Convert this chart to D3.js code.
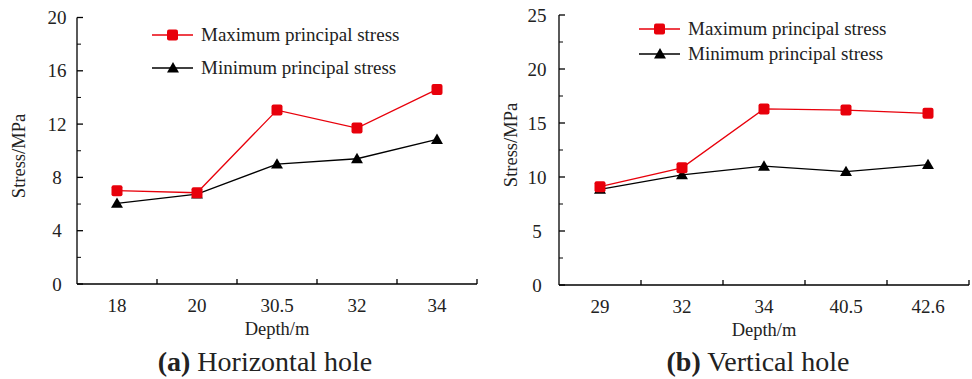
<!DOCTYPE html>
<html>
<head>
<meta charset="utf-8">
<script src="https://cdn.jsdelivr.net/npm/d3@7"></script>
<style>
  body { margin: 0; background: #fff; }
</style>
</head>
<body>
<svg id="chart" width="972" height="379"></svg>
<script>
// panel (a) horizontal hole
const depthsA = ['18', '20', '30.5', '32', '34'];
const maxA = [7.0, 6.85, 13.05, 11.7, 14.6];
const minA = [6.05, 6.75, 9.0, 9.4, 10.85];
const yTicksA = [0, 4, 8, 12, 16, 20];
const yMinorA = [2, 6, 10, 14, 18];

// panel (b) vertical hole
const depthsB = ['29', '32', '34', '40.5', '42.6'];
const maxB = [9.1, 10.85, 16.3, 16.2, 15.9];
const minB = [8.85, 10.2, 11.0, 10.5, 11.15];
const yTicksB = [0, 5, 10, 15, 20, 25];
const yMinorB = [2.5, 7.5, 12.5, 17.5, 22.5];

const seriesNames = ['Maximum principal stress', 'Minimum principal stress'];
const RED = '#e8000b';
const INK = '#222';
const FONT = '"Liberation Serif"';

const svg = d3.select('#chart');

// every text gets the serif face directly
function txt(sel) {
  return sel.append('text').style('font-family', FONT).attr('fill', INK);
}

function drawPanel(cfg) {
  const g = svg.append('g');

  const x = d3.scaleBand().domain(cfg.depths).range([cfg.x0, cfg.x1]);
  const y = d3.scaleLinear().domain([0, cfg.yMax]).range([cfg.y0, cfg.y1]);
  const cx = d => x(d) + x.bandwidth() / 2;

  // y axis line + ticks (inside)
  g.append('line').attr('x1', cfg.x0).attr('x2', cfg.x0)
    .attr('y1', cfg.y0).attr('y2', cfg.y1)
    .attr('stroke', '#000').attr('stroke-width', 1.3);
  g.selectAll('.ymaj').data(cfg.yTicks).join('line')
    .attr('x1', cfg.x0).attr('x2', cfg.x0 + 6)
    .attr('y1', d => y(d)).attr('y2', d => y(d))
    .attr('stroke', '#000').attr('stroke-width', 1.3);
  g.selectAll('.ymin').data(cfg.yMinor).join('line')
    .attr('x1', cfg.x0).attr('x2', cfg.x0 + 4)
    .attr('y1', d => y(d)).attr('y2', d => y(d))
    .attr('stroke', '#000').attr('stroke-width', 1);
  cfg.yTicks.forEach(v => {
    txt(g).attr('x', cfg.x0 - cfg.yLabOff).attr('y', y(v)).attr('dy', '0.35em')
      .attr('text-anchor', 'middle').attr('font-size', 19).text(v);
  });

  // x axis line + band boundary ticks (inside)
  g.append('line').attr('x1', cfg.x0).attr('x2', cfg.x1)
    .attr('y1', cfg.y0).attr('y2', cfg.y0)
    .attr('stroke', '#000').attr('stroke-width', 1.3);
  const bounds = cfg.depths.map(d => x(d) + x.bandwidth());
  g.selectAll('.xt').data(bounds).join('line')
    .attr('x1', d => d).attr('x2', d => d)
    .attr('y1', cfg.y0).attr('y2', cfg.y0 - 5)
    .attr('stroke', '#000').attr('stroke-width', 1.3);
  cfg.depths.forEach(d => {
    txt(g).attr('x', cx(d)).attr('y', cfg.y0 + 28)
      .attr('text-anchor', 'middle').attr('font-size', 19).text(d);
  });

  // axis titles
  txt(g).attr('x', (cfg.x0 + cfg.x1) / 2).attr('y', cfg.y0 + 51)
    .attr('text-anchor', 'middle').attr('font-size', 18.5).text('Depth/m');
  txt(g)
    .attr('transform', `translate(${cfg.x0 - cfg.yTitleOff + 6},${cfg.yTitleY}) rotate(-90)`)
    .attr('text-anchor', 'middle').attr('font-size', 18.5).text('Stress/MPa');

  // lines
  const line = d3.line().x((d, i) => cx(cfg.depths[i])).y(d => y(d));
  g.append('path').datum(cfg.max).attr('d', line)
    .attr('fill', 'none').attr('stroke', RED).attr('stroke-width', 1.3);
  g.append('path').datum(cfg.min).attr('d', line)
    .attr('fill', 'none').attr('stroke', '#000').attr('stroke-width', 1.3);

  const tri = d3.symbol().type(d3.symbolTriangle).size(62);
  g.selectAll('.tri').data(cfg.min).join('path')
    .attr('d', tri)
    .attr('transform', (d, i) => `translate(${cx(cfg.depths[i])},${y(d) + 1})`)
    .attr('fill', '#000');
  g.selectAll('.sq').data(cfg.max).join('rect')
    .attr('x', (d, i) => cx(cfg.depths[i]) - 5.5).attr('y', d => y(d) - 5.5)
    .attr('width', 11).attr('height', 11).attr('rx', 2)
    .attr('fill', RED);

  // legend
  seriesNames.forEach((name, i) => {
    const ly = cfg.legY[i];
    const col = i === 0 ? RED : '#000';
    g.append('line').attr('x1', cfg.legX).attr('x2', cfg.legX + 41)
      .attr('y1', ly).attr('y2', ly).attr('stroke', col).attr('stroke-width', 1.3);
    if (i === 0) {
      g.append('rect').attr('x', cfg.legX + 15).attr('y', ly - 5.5)
        .attr('width', 11).attr('height', 11).attr('rx', 2).attr('fill', RED);
    } else {
      g.append('path').attr('d', tri)
        .attr('transform', `translate(${cfg.legX + 21},${ly + 1})`).attr('fill', '#000');
    }
    txt(g).attr('x', cfg.legX + 49).attr('y', ly).attr('dy', '0.33em')
      .attr('font-size', 19).text(name);
  });

  // caption
  const cap = txt(g).attr('x', cfg.capX).attr('y', 371)
    .attr('text-anchor', 'middle').attr('font-size', 28);
  cap.append('tspan').attr('font-weight', 'bold').text(cfg.capTag);
  cap.append('tspan').text(' ' + cfg.capText);
}

drawPanel({
  depths: depthsA, max: maxA, min: minA, yMax: 20,
  yTicks: yTicksA, yMinor: yMinorA,
  x0: 77, x1: 477, y0: 284, y1: 17.5, yLabOff: 20, yTitleOff: 58, yTitleY: 156,
  legX: 152, legY: [35, 68],
  capX: 265, capTag: '(a)', capText: 'Horizontal hole'
});

drawPanel({
  depths: depthsB, max: maxB, min: minB, yMax: 25,
  yTicks: yTicksB, yMinor: yMinorB,
  x0: 559, x1: 969, y0: 285, y1: 15, yLabOff: 22, yTitleOff: 48, yTitleY: 145,
  legX: 639, legY: [29, 54],
  capX: 758, capTag: '(b)', capText: 'Vertical hole'
});
</script>
</body>
</html>
